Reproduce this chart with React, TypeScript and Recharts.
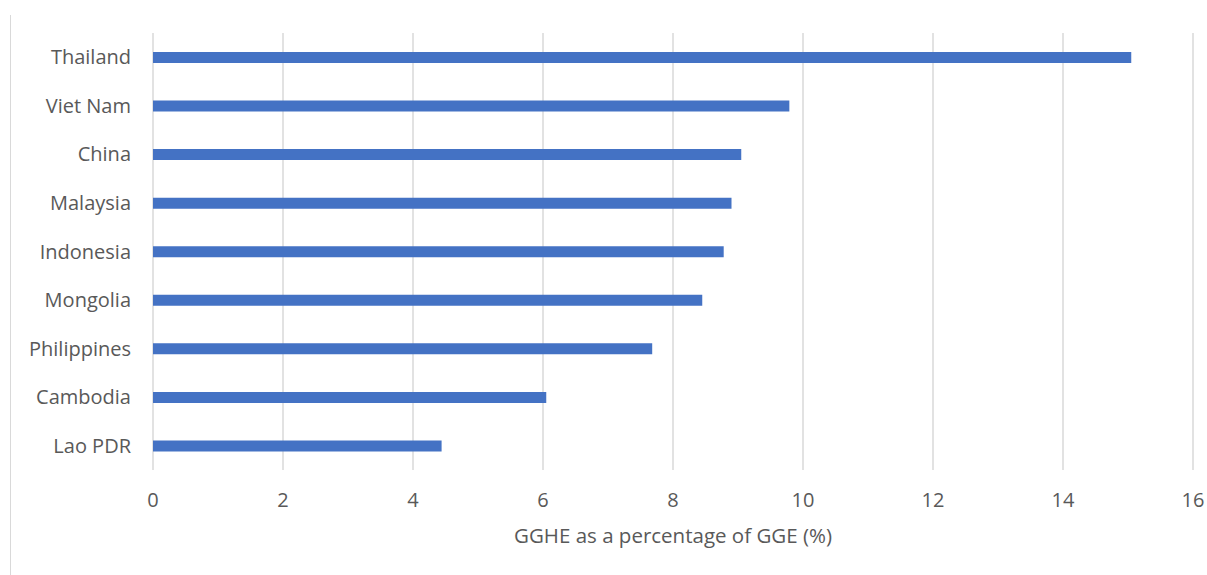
import { Bar, BarChart, CartesianGrid, XAxis, YAxis } from "recharts";

const countries = ["Thailand", "Viet Nam", "China", "Malaysia", "Indonesia", "Mongolia", "Philippines", "Cambodia", "Lao PDR"];
const gghe = [15.05, 9.79, 9.05, 8.9, 8.78, 8.45, 7.68, 6.05, 4.44];
const xTicks = [0, 2, 4, 6, 8, 10, 12, 14, 16];

const data = countries.map((country, i) => ({ country, value: gghe[i] }));

const font = "'Open Sans', sans-serif";
const tick = { fill: "#595959", fontSize: 20, fontFamily: font };

export default function App() {
  return (
    <div style={{ position: "absolute", left: 0, top: 0, width: 1207, height: 575, background: "#fff" }}>
      <div style={{ position: "absolute", left: 10, top: 15, bottom: 0, borderLeft: "1px solid #d9d9d9" }} />
      <BarChart
        width={1207}
        height={575}
        layout="vertical"
        data={data}
        margin={{ top: 33, right: 14, left: 0, bottom: 25 }}
      >
        <CartesianGrid stroke="#d9d9d9" strokeWidth={1.5} horizontal={false} />
        <XAxis
          type="number"
          domain={[0, 16]}
          ticks={xTicks}
          axisLine={false}
          tickLine={false}
          tickSize={0}
          tickMargin={23}
          height={80}
          tick={tick}
          label={{ value: "GGHE as a percentage of GGE (%)", position: "insideBottom", offset: 7, fill: "#595959", fontSize: 20.5, fontFamily: font }}
        />
        <YAxis
          type="category"
          dataKey="country"
          width={153}
          axisLine={false}
          tickLine={false}
          tickSize={0}
          tickMargin={22}
          tick={tick}
        />
        <Bar dataKey="value" fill="#4472c4" barSize={11} isAnimationActive={false} />
      </BarChart>
    </div>
  );
}
